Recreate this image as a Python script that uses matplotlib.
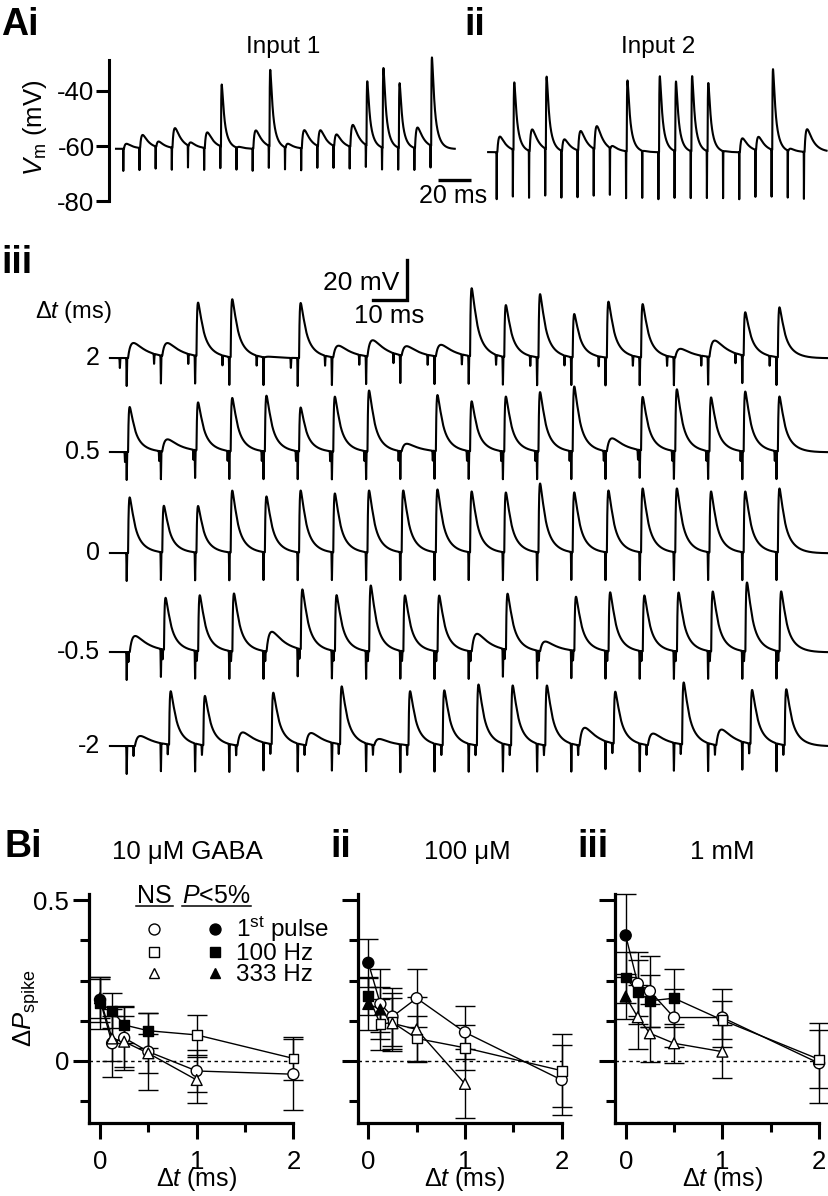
import numpy as np
import matplotlib
matplotlib.use("Agg")
import matplotlib.pyplot as plt
from matplotlib.lines import Line2D
from matplotlib.legend_handler import HandlerTuple

plt.rcParams["font.family"] = ["Liberation Sans", "DejaVu Sans"]
plt.rcParams["mathtext.fontset"] = "custom"
plt.rcParams["mathtext.rm"] = "Liberation Sans"
plt.rcParams["mathtext.it"] = "Liberation Sans:italic"
plt.rcParams["mathtext.bf"] = "Liberation Sans:bold"
plt.rcParams["axes.unicode_minus"] = False

# ---------------- data ----------------
n_pulses = 20
pulse_interval = 10.0  # ms, 100 Hz train

# A i / ii : resting level and peak depolarisation (mV above rest) after each pulse
input1_rest = -61.0
input1_peaks = [1.8, 4.8, 2.1, 7.2, 1.5, 5.7, 22.4, 0.5, 6.6, 27.6,
                1.6, 6.6, 6.0, 4.5, 8.1, 23.2, 28.8, 23.4, 7.6, 32.0]
input2_rest = -62.2
input2_peaks = [5.6, 24.4, 8.0, 26.2, 4.4, 7.2, 8.6, 1.2, 25.6, 0.2,
                27.4, 25.2, 27.2, 24.7, 0.2, 5.0, 5.0, 29.2, 1.0, 8.2]

# A iii : both inputs with a relative delay dt (ms)
dt_labels = ["2", "0.5", "0", "-0.5", "-2"]
dt_values = [2.0, 0.5, 0.0, -0.5, -2.0]
peaks_dt_p2 = [7.5, 6.7, 26.7, 29.0, 0.5, 27.5, 6.0, 8.3, 5.0, 6.0,
               34.0, 26.0, 31.7, 21.7, 28.0, 26.7, 4.5, 8.3, 21.7, 25.0]
peaks_dt_p05 = [22.5, 6.2, 24.0, 26.7, 27.9, 22.0, 27.5, 30.5, 4.0, 28.0,
                25.0, 27.5, 29.7, 32.5, 6.7, 26.7, 31.0, 27.0, 30.0, 27.5]
peaks_dt_0 = [27.8, 23.3, 23.3, 31.0, 28.0, 31.0, 29.5, 31.0, 31.0, 31.5,
              30.5, 30.0, 34.5, 30.0, 31.0, 32.0, 32.0, 30.5, 30.5, 32.0]
peaks_dt_m05 = [8.0, 26.0, 28.0, 29.0, 10.0, 30.0, 28.0, 33.0, 28.0, 28.0,
                9.0, 28.0, 5.0, 27.0, 29.5, 28.0, 29.5, 30.0, 34.5, 30.0]
peaks_dt_m2 = [5.0, 26.7, 24.7, 6.7, 25.8, 6.3, 29.0, 3.3, 27.0, 27.5,
               30.5, 30.0, 30.0, 9.0, 26.0, 6.0, 31.0, 8.0, 27.0, 28.0]
row_peaks = [peaks_dt_p2, peaks_dt_p05, peaks_dt_0, peaks_dt_m05, peaks_dt_m2]

# B : change in spike probability vs delay, three GABA concentrations
gaba_titles = ["10 μM GABA", "100 μM", "1 mM"]
delays = [0, 0.125, 0.25, 0.5, 1, 2]

first_mean = [[0.19, 0.055, 0.072, 0.029, -0.031, -0.041],
              [0.305, 0.177, 0.138, 0.195, 0.089, -0.059],
              [0.39, 0.24, 0.217, 0.135, 0.135, -0.007]]
first_err = [[0.07, 0.105, 0.10, 0.12, 0.065, 0.11],
             [0.075, 0.11, 0.09, 0.09, 0.083, 0.11],
             [0.13, 0.10, 0.11, 0.09, 0.09, 0.124]]
first_sig = [[1, 0, 0, 0, 0, 0], [1, 0, 0, 0, 0, 0], [1, 0, 0, 0, 0, 0]]

hz100_mean = [[0.18, 0.156, 0.112, 0.094, 0.081, 0.008],
              [0.202, 0.114, 0.12, 0.07, 0.041, -0.03],
              [0.259, 0.215, 0.187, 0.195, 0.127, 0.005]]
hz100_err = [[0.08, 0.055, 0.057, 0.055, 0.062, 0.068],
             [0.06, 0.08, 0.09, 0.07, 0.07, 0.114],
             [0.08, 0.10, 0.08, 0.09, 0.06, 0.09]]
hz100_sig = [[1, 1, 1, 1, 0, 0], [1, 0, 0, 0, 0, 0], [1, 1, 1, 1, 0, 0]]

hz333_mean = [[0.195, 0.07, 0.06, 0.024, -0.059],
              [0.177, 0.16, 0.117, 0.098, -0.071],
              [0.2, 0.136, 0.086, 0.055, 0.029]]
hz333_err = [[0.06, 0.07, 0.08, 0.06, 0.07],
             [0.08, 0.07, 0.08, 0.10, 0.107],
             [0.07, 0.10, 0.09, 0.06, 0.083]]
hz333_sig = [[1, 0, 0, 0, 0], [1, 1, 0, 0, 0], [1, 0, 0, 0, 0]]

# ---------------- helpers ----------------
W, H = 829, 1196
fig = plt.figure(figsize=(W / 100, H / 100), dpi=100)


def axes_px(x0, y0, x1, y1):
    return fig.add_axes([x0 / W, 1 - y1 / H, (x1 - x0) / W, (y1 - y0) / H])


def text_px(x, y, s, **kw):
    fig.text(x / W, 1 - y / H, s, **kw)


def kern(s, rise, decay):
    tp = rise * decay / (decay - rise) * np.log(decay / rise)
    peak = np.exp(-tp / decay) - np.exp(-tp / rise)
    s = np.clip(s, 0, None)
    return (np.exp(-s / decay) - np.exp(-s / rise)) / peak


def spike_shape(s):
    return 0.6 * kern(s, 0.18, 0.7) + 0.5 * kern(s, 0.5, 3.5)


_spk_norm = spike_shape(np.linspace(0, 6, 6001)).max()


def build_trace(t, rest, peaks, onsets, artifacts):
    v = np.full_like(t, rest)
    for on, a in zip(onsets, peaks):
        s = t - on
        if a >= 15:
            v += a * spike_shape(s) / _spk_norm
            v -= 0.08 * a * kern(s - 1.5, 1.5, 5.0)
        else:
            v += a * kern(s, 0.8, 4.0)
    for at, depth in artifacts:
        v -= depth * np.exp(-((t - at) / 0.08) ** 2)
    return v


pulse_times = np.arange(n_pulses) * pulse_interval
trace_kw = dict(color="k", lw=1.5, clip_on=False)

# ---------------- A i ----------------
sx_a, sy_a = 1.617, 2.77   # px per ms, px per mV
t0_px = 123.3
axA = axes_px(109, 60, 475, 146 + 20 * sy_a)
axA.set_xlim((109 - t0_px) / sx_a, (475 - t0_px) / sx_a)
axA.set_ylim(-80, -60 + (146 - 60) / sy_a)
t1 = np.arange(-4.5, 205, 0.02)
v1 = build_trace(t1, input1_rest, input1_peaks, pulse_times + 0.4,
                 [(tk, 8.0) for tk in pulse_times])
axA.plot(t1, v1, **trace_kw)
for sp in ["top", "right", "bottom"]:
    axA.spines[sp].set_visible(False)
axA.spines["left"].set_linewidth(2.2)
axA.set_xticks([])
axA.set_yticks([-80, -60, -40])
axA.tick_params(axis="y", length=9.4, width=2.2, labelsize=18.5, pad=1)
axA.set_facecolor("none")
# 20 ms scale bar
axA.plot([194.8, 214.8], [-72.3, -72.3], color="k", lw=2.4, clip_on=False,
         solid_capstyle="butt")
text_px(453, 203, "20 ms", ha="center", va="baseline", fontsize=18)
text_px(35, 128, r"$V_{\rm m}$ (mV)", rotation=90, ha="center", va="center",
        fontsize=18.5)

# ---------------- A ii ----------------
t2_px = 496.7
axB = axes_px(488, 60, 829, 146 + 20 * sy_a)
axB.set_xlim((488 - t2_px) / sx_a, (829 - t2_px) / sx_a)
axB.set_ylim(-80, -60 + (146 - 60) / sy_a)
t2 = np.arange(-5.3, 204, 0.02)
v2 = build_trace(t2, input2_rest, input2_peaks, pulse_times + 0.4,
                 [(tk, 17.0) for tk in pulse_times])
axB.plot(t2, v2, **trace_kw)
axB.axis("off")

text_px(283, 53, "Input 1", ha="center", va="baseline", fontsize=17.5)
text_px(658, 53, "Input 2", ha="center", va="baseline", fontsize=17.5)
text_px(1, 25, "Ai", ha="left", va="center", fontsize=27, fontweight="bold")
text_px(464, 25, "ii", ha="left", va="center", fontsize=27, fontweight="bold")

# ---------------- A iii ----------------
sx_c, sy_c = 3.42, 2.0
t3_px = 126.7
row_offset = [97.5, 50.5, 0.0, -49.5, -96.5]
axC = axes_px(110, 255, 829, 790)
axC.set_xlim((110 - t3_px) / sx_c, (829 - t3_px) / sx_c)
axC.set_ylim(-(790 - 553) / sy_c, (553 - 255) / sy_c)
axC.axis("off")
t3 = np.arange(-4.9, 204.8, 0.02)
for lab, d, pk, off in zip(dt_labels, dt_values, row_peaks, row_offset):
    arts = [(tk, 14.0) for tk in pulse_times]
    if d != 0:
        arts += [(tk - d, 5.0) for tk in pulse_times]
    onsets = pulse_times + max(0.0, -d) + 0.4
    v = build_trace(t3, off, pk, onsets, arts)
    axC.plot(t3, v, **trace_kw)
    axC.text((100 - t3_px) / sx_c, off, lab, ha="right", va="center", fontsize=18)

# scale bars 20 mV / 10 ms
axC.plot([71.9, 81.9, 81.9], [126.5, 126.5, 146.5], color="k", lw=2.4,
         clip_on=False, solid_joinstyle="miter")
text_px(399, 290, "20 mV", ha="right", va="baseline", fontsize=19)
text_px(354, 323, "10 ms", ha="left", va="baseline", fontsize=18.5)
text_px(1, 263, "iii", ha="left", va="center", fontsize=27, fontweight="bold")
text_px(35, 318, r"$\Delta t$ (ms)", ha="left", va="baseline", fontsize=17)

# ---------------- B ----------------
sx_b, sy_b = 96.7, 322.0
origins = [100.0, 368.3, 625.7]
zero_y = 1061.0
marks = [("o", 7.9), ("s", 7.0), ("^", 7.8)]
panel_tags = ["Bi", "ii", "iii"]
tag_x = [5, 330, 577]
title_x = [187, 467, 722]

for p in range(3):
    ox = origins[p]
    ax = axes_px(ox - 0.11 * sx_b, zero_y - 0.52 * sy_b, ox + 2.0 * sx_b,
                 zero_y + 0.191 * sy_b)
    ax.set_xlim(-0.11, 2.0)
    ax.set_ylim(-0.191, 0.52)
    ax.set_facecolor("none")
    ax.axhline(0, color="k", lw=1.0, ls=(0, (2.5, 2.5)), zorder=1)

    groups = [(first_mean[p], first_err[p], first_sig[p]),
              (hz100_mean[p], hz100_err[p], hz100_sig[p]),
              (hz333_mean[p], hz333_err[p], hz333_sig[p])]
    for (m, e, sig), (mk, ms) in zip(groups, marks):
        x = delays[:len(m)]
        ax.errorbar(x, m, yerr=e, fmt="none", ecolor="k", elinewidth=1.0,
                    capsize=7, capthick=1.0, zorder=2, clip_on=False)
        ax.plot(x, m, color="k", lw=1.0, zorder=3, clip_on=False)
        fc = ["k" if s else "white" for s in sig]
        ax.scatter(x, m, s=ms ** 2, marker=mk, facecolors=fc, edgecolors="k",
                   linewidths=1.0, zorder=4, clip_on=False)

    for sp in ["top", "right"]:
        ax.spines[sp].set_visible(False)
    for sp in ["left", "bottom"]:
        ax.spines[sp].set_linewidth(2.3)
    ax.set_xticks([0, 1, 2])
    ax.set_xticks([0.5, 1.5], minor=True)
    ax.set_yticks([0, 0.5])
    ax.set_yticks([-0.125, 0.125, 0.25, 0.375], minor=True)
    ax.tick_params(which="major", length=11.5, width=2.2, labelsize=18.5)
    ax.tick_params(which="minor", length=6.5, width=2.2)
    ax.tick_params(axis="x", pad=8)
    ax.tick_params(axis="y", pad=3)
    if p == 0:
        ax.set_yticklabels(["0", "0.5"])
        ax.set_ylabel(r"$\Delta P_{\rm spike}$", fontsize=18.5)
        ax.yaxis.set_label_coords((42 - (ox - 0.11 * sx_b)) / (2.11 * sx_b), 0.50)
    else:
        ax.set_yticklabels(["", ""])
    ax.set_xlabel(r"$\Delta t$ (ms)", fontsize=18)
    ax.xaxis.set_label_coords(0.525, -0.248)
    ax.xaxis.label.set_va("center")

    text_px(tag_x[p], 847, panel_tags[p], ha="left", va="center", fontsize=27,
            fontweight="bold")
    text_px(title_x[p], 859, gaba_titles[p], ha="center", va="baseline",
            fontsize=18.5)

    if p == 0:
        open_h = [Line2D([], [], ls="none", marker=mk, ms=ms, mfc="white",
                         mec="k", mew=1.0) for mk, ms in marks]
        fill_h = [Line2D([], [], ls="none", marker=mk, ms=ms, mfc="k",
                         mec="k", mew=1.0) for mk, ms in marks]
        ax.legend(list(zip(open_h, fill_h)),
                  [r"1$^{\rm st}$ pulse", "100 Hz", "333 Hz"],
                  handler_map={tuple: HandlerTuple(ndivide=2, pad=1.95)},
                  loc="upper left", bbox_to_anchor=(147 / W, 1 - 915 / H),
                  bbox_transform=fig.transFigure, frameon=False, borderpad=0,
                  borderaxespad=0, handlelength=3.1, handletextpad=0.55,
                  labelspacing=-0.04, fontsize=17.5)
        text_px(154, 903, "NS", ha="center", va="baseline", fontsize=18)
        text_px(216, 903, r"$P$<5%", ha="center", va="baseline", fontsize=18)
        fig.add_artist(Line2D([136 / W, 173 / W], [1 - 906 / H] * 2,
                              color="k", lw=1.1))
        fig.add_artist(Line2D([182 / W, 251 / W], [1 - 906 / H] * 2,
                              color="k", lw=1.1))

fig.savefig("out.png", dpi=100)
